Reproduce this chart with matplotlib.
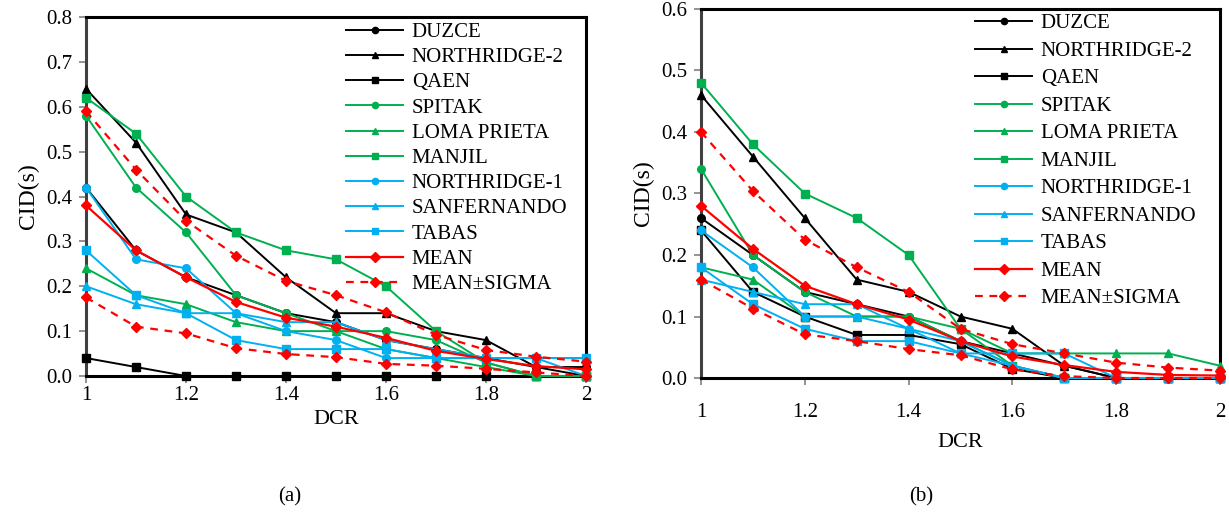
import numpy as np
import matplotlib.pyplot as plt
from matplotlib.lines import Line2D

plt.rcParams['font.family'] = ['Liberation Serif', 'DejaVu Serif']

dcr = [1.0, 1.1, 1.2, 1.3, 1.4, 1.5, 1.6, 1.7, 1.8, 1.9, 2.0]

names = ['DUZCE', 'NORTHRIDGE-2', 'QAEN', 'SPITAK', 'LOMA PRIETA', 'MANJIL',
         'NORTHRIDGE-1', 'SANFERNANDO', 'TABAS']

# (a)
a_duzce = [0.42, 0.28, 0.22, 0.18, 0.14, 0.12, 0.08, 0.06, 0.04, 0.02, 0.02]
a_northridge2 = [0.64, 0.52, 0.36, 0.32, 0.22, 0.14, 0.14, 0.10, 0.08, 0.02, 0.0]
a_qaen = [0.04, 0.02, 0.0, 0.0, 0.0, 0.0, 0.0, 0.0, 0.0, 0.0, 0.0]
a_spitak = [0.58, 0.42, 0.32, 0.18, 0.14, 0.10, 0.10, 0.08, 0.03, 0.0, 0.0]
a_loma = [0.24, 0.18, 0.16, 0.12, 0.10, 0.10, 0.06, 0.04, 0.02, 0.0, 0.0]
a_manjil = [0.62, 0.54, 0.40, 0.32, 0.28, 0.26, 0.20, 0.10, 0.03, 0.0, 0.0]
a_northridge1 = [0.42, 0.26, 0.24, 0.14, 0.10, 0.08, 0.04, 0.04, 0.04, 0.04, 0.0]
a_sanfernando = [0.20, 0.16, 0.14, 0.14, 0.12, 0.12, 0.08, 0.06, 0.04, 0.04, 0.04]
a_tabas = [0.28, 0.18, 0.14, 0.08, 0.06, 0.06, 0.06, 0.04, 0.04, 0.04, 0.04]
a_mean = [0.38, 0.28, 0.22, 0.165, 0.13, 0.11, 0.085, 0.056, 0.038, 0.022, 0.015]
a_upper = [0.59, 0.46, 0.346, 0.268, 0.212, 0.18, 0.142, 0.092, 0.058, 0.043, 0.032]
a_lower = [0.175, 0.11, 0.095, 0.062, 0.049, 0.042, 0.027, 0.023, 0.016, 0.008, 0.0]

# (b)
b_duzce = [0.26, 0.20, 0.14, 0.12, 0.10, 0.06, 0.04, 0.02, 0.0, 0.0, 0.0]
b_northridge2 = [0.46, 0.36, 0.26, 0.16, 0.14, 0.10, 0.08, 0.02, 0.0, 0.0, 0.0]
b_qaen = [0.24, 0.14, 0.10, 0.07, 0.07, 0.055, 0.015, 0.0, 0.0, 0.0, 0.0]
b_spitak = [0.34, 0.20, 0.14, 0.10, 0.10, 0.06, 0.02, 0.0, 0.0, 0.0, 0.0]
b_loma = [0.18, 0.16, 0.10, 0.10, 0.10, 0.08, 0.04, 0.04, 0.04, 0.04, 0.02]
b_manjil = [0.48, 0.38, 0.30, 0.26, 0.20, 0.08, 0.02, 0.0, 0.0, 0.0, 0.0]
b_northridge1 = [0.24, 0.18, 0.10, 0.10, 0.08, 0.06, 0.02, 0.0, 0.0, 0.0, 0.0]
b_sanfernando = [0.16, 0.14, 0.12, 0.12, 0.08, 0.04, 0.02, 0.0, 0.0, 0.0, 0.0]
b_tabas = [0.18, 0.12, 0.08, 0.06, 0.06, 0.04, 0.04, 0.04, 0.0, 0.0, 0.0]
b_mean = [0.28, 0.21, 0.15, 0.12, 0.095, 0.06, 0.035, 0.021, 0.01, 0.005, 0.004]
b_upper = [0.40, 0.304, 0.225, 0.18, 0.14, 0.08, 0.055, 0.04, 0.025, 0.017, 0.012]
b_lower = [0.16, 0.113, 0.071, 0.06, 0.047, 0.037, 0.014, 0.003, 0.0, 0.0, 0.0]

BLACK, GREEN, BLUE, RED = '#000000', '#00B050', '#00B0F0', '#FF0000'
styles = [(BLACK, 'o'), (BLACK, '^'), (BLACK, 's'),
          (GREEN, 'o'), (GREEN, '^'), (GREEN, 's'),
          (BLUE, 'o'), (BLUE, '^'), (BLUE, 's')]

fig = plt.figure(figsize=(12.29, 5.16), dpi=100)
ax_a = fig.add_axes([0.070, 0.2713, 0.4068, 0.6957])
ax_b = fig.add_axes([0.5704, 0.2674, 0.4223, 0.7152])


def draw(ax, series, mean, upper, lower, ymax, leg_anchor, spacing, xpad, xlabelpad):
    handles = []
    for (c, m), vals, name in zip(styles, series, names):
        ax.plot(dcr, vals, color=c, marker=m, lw=1.4, ms=5.5, clip_on=False, zorder=3)
        handles.append(Line2D([], [], color=c, marker=m, lw=1.4, ms=4.5))
    ax.plot(dcr, mean, color=RED, marker='D', lw=1.6, ms=5.5, clip_on=False, zorder=4)
    for v in (upper, lower):
        ax.plot(dcr, v, color=RED, marker='D', lw=1.6, ms=5.5, ls=(0, (3.5, 3)),
                clip_on=False, zorder=4)
    handles.append(Line2D([], [], color=RED, marker='D', lw=1.6, ms=5.5))
    handles.append(Line2D([], [], color=RED, marker='D', lw=1.6, ms=5.5, ls=(0, (3.5, 3))))
    labels = names + ['MEAN', 'MEAN\u00b1SIGMA']

    ax.set_xlim(1, 2)
    ax.set_ylim(0, ymax)
    ax.set_xticks([1, 1.2, 1.4, 1.6, 1.8, 2])
    ax.set_xticklabels(['1', '1.2', '1.4', '1.6', '1.8', '2'])
    ax.set_yticks(np.arange(0, ymax + 0.001, 0.1))
    ax.set_yticklabels(['%.1f' % t for t in np.arange(0, ymax + 0.001, 0.1)])
    ax.tick_params(direction='out', length=5, width=1.2, color='#808080',
                   labelsize=15, pad=5)
    ax.tick_params(axis='x', pad=xpad)
    for s in ('top', 'right', 'bottom'):
        ax.spines[s].set_linewidth(2.2)
        ax.spines[s].set_color('black')
    ax.spines['left'].set_linewidth(2.2)
    ax.spines['left'].set_color('#404040')
    ax.set_xlabel('DCR', fontsize=16, labelpad=xlabelpad)
    ax.set_ylabel('CID(s)', fontsize=17, labelpad=5)
    ax.legend(handles, labels, loc='upper left', bbox_to_anchor=leg_anchor,
              frameon=False, fontsize=15, handlelength=2.75, handletextpad=0.4,
              labelspacing=spacing, borderpad=0, borderaxespad=0)


draw(ax_a, [a_duzce, a_northridge2, a_qaen, a_spitak, a_loma, a_manjil,
            a_northridge1, a_sanfernando, a_tabas],
     a_mean, a_upper, a_lower, 0.8, (0.52, 0.985), 0.27, 2, 4)
draw(ax_b, [b_duzce, b_northridge2, b_qaen, b_spitak, b_loma, b_manjil,
            b_northridge1, b_sanfernando, b_tabas],
     b_mean, b_upper, b_lower, 0.6, (0.528, 0.987), 0.38, 13, 8)

fig.text(290 / 1229, 1 - 497 / 516, '(a)', fontsize=15, ha='center', va='center')
fig.text(921 / 1229, 1 - 497 / 516, '(b)', fontsize=15, ha='center', va='center')

fig.savefig('out.png', dpi=100)
